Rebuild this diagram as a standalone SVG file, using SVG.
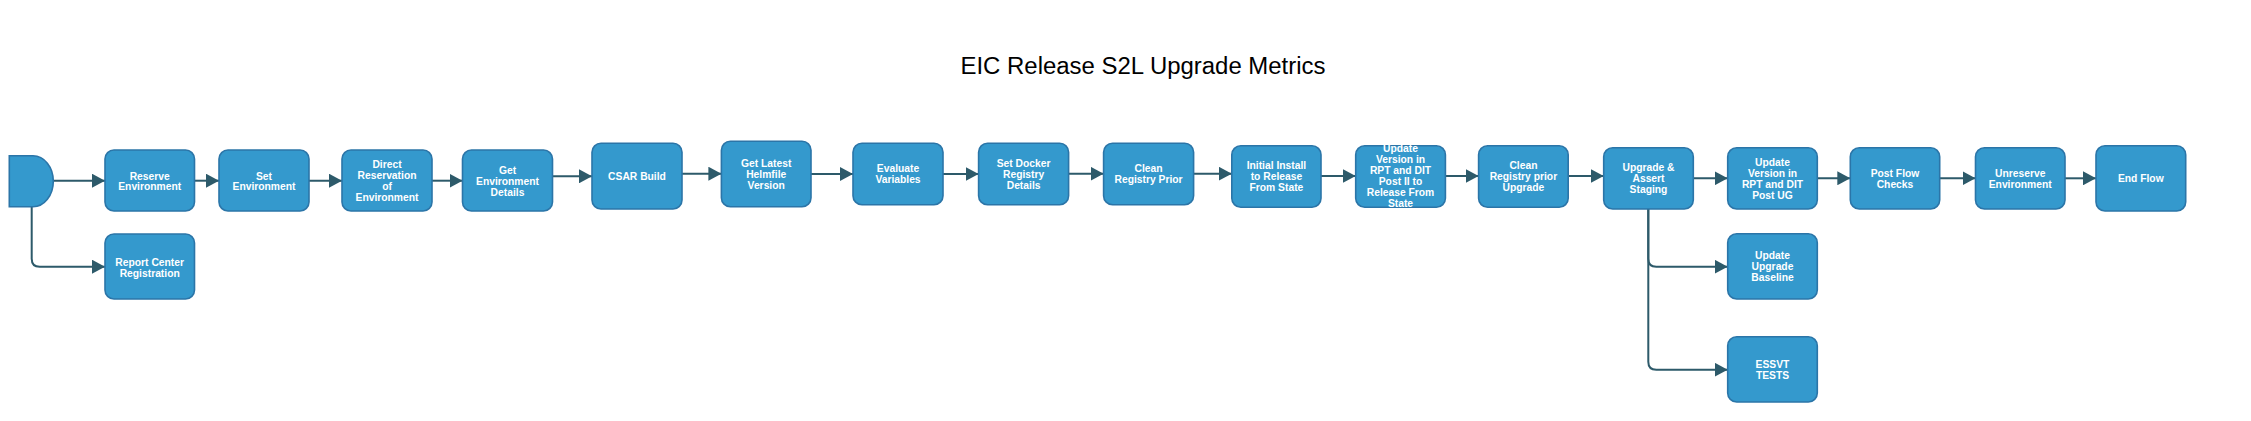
<svg xmlns="http://www.w3.org/2000/svg" width="2251" height="421" viewBox="0 0 2251 421">
<style>
.n{fill:#3499cd;stroke:#2b75a8;stroke-width:1.6}
.t{font-family:"Liberation Sans",Arial,sans-serif;font-size:10.3px;font-weight:bold;fill:#ffffff;text-anchor:middle}
.c{fill:none;stroke:#2d5a6a;stroke-width:2}
.title{font-family:"Liberation Sans",Arial,sans-serif;font-size:23px;fill:#000000;text-anchor:middle}
</style>
<defs>
<marker id="ah" markerUnits="userSpaceOnUse" markerWidth="14" markerHeight="14" refX="13" refY="7" orient="auto">
<path d="M0,0 L13,7 L0,14 Z" fill="#2d5a6a"/>
</marker>
</defs>
<rect width="2251" height="421" fill="#ffffff"/>
<text class="title" x="1143" y="73.5" textLength="365" lengthAdjust="spacingAndGlyphs">EIC Release S2L Upgrade Metrics</text>

<g id="connectors">
<path class="c" marker-end="url(#ah)" d="M53.3,180.7 H105"/>
<path class="c" marker-end="url(#ah)" d="M194.5,180.7 H219"/>
<path class="c" marker-end="url(#ah)" d="M309,180.7 H342"/>
<path class="c" marker-end="url(#ah)" d="M432,180.7 H462.5"/>
<path class="c" marker-end="url(#ah)" d="M552.5,176.3 H592"/>
<path class="c" marker-end="url(#ah)" d="M682,173.7 H721.4"/>
<path class="c" marker-end="url(#ah)" d="M811,174 H853"/>
<path class="c" marker-end="url(#ah)" d="M943,174 H978.6"/>
<path class="c" marker-end="url(#ah)" d="M1068.6,173.7 H1103.6"/>
<path class="c" marker-end="url(#ah)" d="M1193.6,173.7 H1231.8"/>
<path class="c" marker-end="url(#ah)" d="M1321,176 H1355.7"/>
<path class="c" marker-end="url(#ah)" d="M1445.4,176 H1478.6"/>
<path class="c" marker-end="url(#ah)" d="M1568.2,176 H1603.7"/>
<path class="c" marker-end="url(#ah)" d="M1693.3,178.3 H1727.7"/>
<path class="c" marker-end="url(#ah)" d="M1817.3,178.3 H1850.3"/>
<path class="c" marker-end="url(#ah)" d="M1939.7,178.3 H1975.5"/>
<path class="c" marker-end="url(#ah)" d="M2065,178.3 H2096"/>
<path class="c" marker-end="url(#ah)" d="M31.7,206.7 V258.7 Q31.7,266.7 39.7,266.7 H105"/>
<path class="c" marker-end="url(#ah)" d="M1648.3,209 V258.7 Q1648.3,266.7 1656.3,266.7 H1727.7"/>
<path class="c" marker-end="url(#ah)" d="M1648.3,209 V361.7 Q1648.3,369.7 1656.3,369.7 H1727.7"/>
</g>

<g id="start">
<path class="n" d="M9.3,155.7 H33 A20.3,25.5 0 0 1 33,206.7 H9.3 Z"/>
</g>

<g id="reserve">
<rect class="n" x="105" y="150" width="89.5" height="61" rx="9"/>
<text class="t" x="149.7" y="179.6">Reserve</text>
<text class="t" x="149.7" y="190.3">Environment</text>
</g>

<g id="setenv">
<rect class="n" x="219" y="150" width="90" height="61" rx="9"/>
<text class="t" x="264" y="179.6">Set</text>
<text class="t" x="264" y="190.3">Environment</text>
</g>

<g id="direct">
<rect class="n" x="342" y="150" width="90" height="61" rx="9"/>
<text class="t" x="387" y="168.3">Direct</text>
<text class="t" x="387" y="179.3">Reservation</text>
<text class="t" x="387" y="190.3">of</text>
<text class="t" x="387" y="201.3">Environment</text>
</g>

<g id="getenv">
<rect class="n" x="462.5" y="150" width="90" height="61" rx="9"/>
<text class="t" x="507.5" y="173.7">Get</text>
<text class="t" x="507.5" y="184.7">Environment</text>
<text class="t" x="507.5" y="195.7">Details</text>
</g>

<g id="report">
<rect class="n" x="105" y="234" width="89.5" height="65" rx="9"/>
<text class="t" x="149.7" y="265.6">Report Center</text>
<text class="t" x="149.7" y="276.6">Registration</text>
</g>

<g id="csar">
<rect class="n" x="592" y="143.3" width="90" height="65.7" rx="9"/>
<text class="t" x="637" y="179.9">CSAR Build</text>
</g>

<g id="helmfile">
<rect class="n" x="721.4" y="141.3" width="89.6" height="65.4" rx="9"/>
<text class="t" x="766.2" y="166.7">Get Latest</text>
<text class="t" x="766.2" y="177.7">Helmfile</text>
<text class="t" x="766.2" y="188.7">Version</text>
</g>

<g id="evaluate">
<rect class="n" x="853" y="143.3" width="90" height="61.4" rx="9"/>
<text class="t" x="898" y="172.2">Evaluate</text>
<text class="t" x="898" y="183.2">Variables</text>
</g>

<g id="setdocker">
<rect class="n" x="978.6" y="143.3" width="90" height="61.4" rx="9"/>
<text class="t" x="1023.6" y="166.7">Set Docker</text>
<text class="t" x="1023.6" y="177.7">Registry</text>
<text class="t" x="1023.6" y="188.7">Details</text>
</g>

<g id="cleanprior">
<rect class="n" x="1103.6" y="143.3" width="90" height="61.4" rx="9"/>
<text class="t" x="1148.6" y="172.2">Clean</text>
<text class="t" x="1148.6" y="183.2">Registry Prior</text>
</g>

<g id="initial">
<rect class="n" x="1231.8" y="145.7" width="89.2" height="61.6" rx="9"/>
<text class="t" x="1276.4" y="169.2">Initial Install</text>
<text class="t" x="1276.4" y="180.2">to Release</text>
<text class="t" x="1276.4" y="191.2">From State</text>
</g>

<g id="updatepostii">
<rect class="n" x="1355.7" y="145.7" width="89.7" height="61.6" rx="9"/>
<text class="t" x="1400.5" y="151.9">Update</text>
<text class="t" x="1400.5" y="162.9">Version in</text>
<text class="t" x="1400.5" y="173.9">RPT and DIT</text>
<text class="t" x="1400.5" y="184.9">Post II to</text>
<text class="t" x="1400.5" y="195.9">Release From</text>
<text class="t" x="1400.5" y="206.9">State</text>
</g>

<g id="cleanupgrade">
<rect class="n" x="1478.6" y="145.7" width="89.6" height="61.6" rx="9"/>
<text class="t" x="1523.4" y="169.2">Clean</text>
<text class="t" x="1523.4" y="180.2">Registry prior</text>
<text class="t" x="1523.4" y="191.2">Upgrade</text>
</g>

<g id="upgrade">
<rect class="n" x="1603.7" y="147.7" width="89.6" height="61.3" rx="9"/>
<text class="t" x="1648.5" y="171">Upgrade &amp;</text>
<text class="t" x="1648.5" y="182">Assert</text>
<text class="t" x="1648.5" y="193">Staging</text>
</g>

<g id="updatepostug">
<rect class="n" x="1727.7" y="147.7" width="89.6" height="61.3" rx="9"/>
<text class="t" x="1772.5" y="165.5">Update</text>
<text class="t" x="1772.5" y="176.5">Version in</text>
<text class="t" x="1772.5" y="187.5">RPT and DIT</text>
<text class="t" x="1772.5" y="198.5">Post UG</text>
</g>

<g id="postflow">
<rect class="n" x="1850.3" y="147.7" width="89.4" height="61.3" rx="9"/>
<text class="t" x="1895" y="176.5">Post Flow</text>
<text class="t" x="1895" y="187.5">Checks</text>
</g>

<g id="unreserve">
<rect class="n" x="1975.5" y="147.7" width="89.5" height="61.3" rx="9"/>
<text class="t" x="2020.2" y="176.5">Unreserve</text>
<text class="t" x="2020.2" y="187.5">Environment</text>
</g>

<g id="endflow">
<rect class="n" x="2096" y="145.7" width="89.7" height="65.3" rx="9"/>
<text class="t" x="2140.8" y="182">End Flow</text>
</g>

<g id="baseline">
<rect class="n" x="1727.7" y="233.7" width="89.6" height="65.3" rx="9"/>
<text class="t" x="1772.5" y="259">Update</text>
<text class="t" x="1772.5" y="270">Upgrade</text>
<text class="t" x="1772.5" y="281">Baseline</text>
</g>

<g id="essvt">
<rect class="n" x="1727.7" y="336.7" width="89.6" height="65.3" rx="9"/>
<text class="t" x="1772.5" y="367.5">ESSVT</text>
<text class="t" x="1772.5" y="378.5">TESTS</text>
</g>
</svg>
